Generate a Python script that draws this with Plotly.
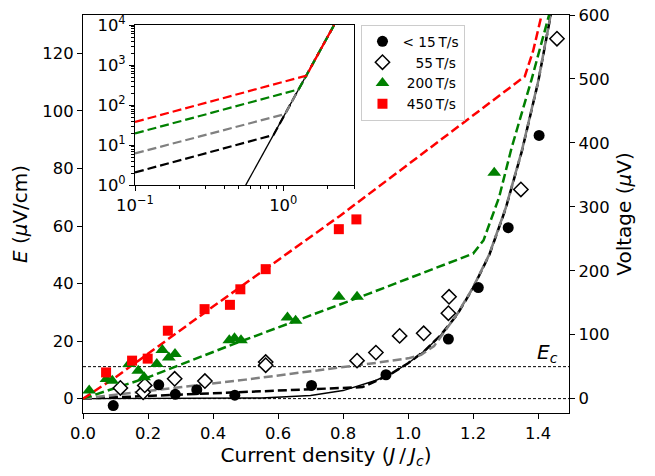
import plotly.graph_objects as go

# ---------------- data ----------------
# measured points: current density J/Jc and field E (uV/cm)
J_lt15 = [0.093, 0.233, 0.284, 0.350, 0.467, 0.703, 0.932, 1.124, 1.216, 1.308, 1.403]
E_lt15 = [-2.4, 4.8, 1.5, 3.1, 1.2, 4.6, 8.3, 20.7, 38.6, 59.4, 91.5]

J_55 = [0.115, 0.185, 0.190, 0.282, 0.375, 0.562, 0.562, 0.843, 0.901, 0.974, 1.048, 1.124, 1.126, 1.347, 1.458]
E_55 = [3.7, 2.2, 4.6, 6.9, 6.1, 12.7, 11.6, 13.2, 16.0, 21.8, 22.7, 29.7, 35.4, 72.7, 125.1]

J_200 = [0.019, 0.072, 0.090, 0.142, 0.170, 0.188, 0.227, 0.244, 0.264, 0.283,
         0.450, 0.466, 0.486, 0.629, 0.654, 0.787, 0.843, 1.265]
E_200 = [2.8, 6.8, 6.2, 12.0, 9.7, 7.4, 12.0, 16.9, 14.3, 15.5,
         20.3, 21.0, 20.3, 28.2, 27.1, 35.4, 35.4, 78.5]

J_450 = [0.071, 0.151, 0.199, 0.261, 0.374, 0.452, 0.484, 0.562, 0.787, 0.841]
E_450 = [9.1, 13.2, 13.9, 23.6, 31.1, 32.6, 38.0, 45.0, 58.9, 62.3]

# model curves in the main panel (E in uV/cm)
J_pow = [0.0, 0.40, 0.55, 0.70, 0.80, 0.90, 0.95, 1.00, 1.05, 1.10, 1.15, 1.20, 1.25, 1.30, 1.35, 1.40, 1.45]
E_pow = [0.0, 0.05, 0.2, 1.1, 2.8, 6.3, 8.8, 12.3, 16.5, 22.0, 29.0, 38.5, 50.0, 66.0, 86.0, 110.0, 140.0]

J_fit15 = [0.0, 0.86, 0.91, 0.95, 1.00, 1.05, 1.10, 1.15, 1.20, 1.25, 1.30, 1.35, 1.40, 1.45]
E_fit15 = [0.0, 4.0, 6.6, 8.8, 12.3, 16.5, 22.0, 29.0, 38.5, 50.0, 66.0, 86.0, 110.0, 140.0]

J_fit55 = [0.0, 0.50, 0.90, 1.00, 1.04, 1.08, 1.12, 1.15, 1.20, 1.25, 1.30, 1.35, 1.40, 1.45]
E_fit55 = [0.0, 6.6, 12.4, 14.0, 15.2, 18.3, 24.5, 29.2, 38.7, 50.2, 66.2, 86.2, 110.2, 140.2]

J_fit200 = [0.0, 0.20, 0.45, 0.88, 1.20, 1.232, 1.28, 1.318, 1.38, 1.44]
E_fit200 = [0.0, 7.4, 18.4, 36.5, 50.4, 55.0, 70.0, 87.0, 111.0, 136.0]

J_fit450 = [0.0, 0.10, 0.40, 0.79, 1.359, 1.385, 1.41, 1.44]
E_fit450 = [0.0, 7.4, 32.0, 63.5, 112.0, 121.0, 133.0, 145.0]

# inset curves (log-log, voltage in uV)
Ji_pow = [0.558, 0.785, 1.109, 1.564, 2.20]
Vi_pow = [1.0, 10.0, 100.0, 1000.0, 10000.0]
Ji_15 = [0.10, 0.86, 1.109, 1.564, 2.20]
Vi_15 = [2.08, 18.0, 100.0, 1000.0, 10000.0]
Ji_55 = [0.10, 1.03, 1.109, 1.564, 2.20]
Vi_55 = [6.2, 60.0, 100.0, 1000.0, 10000.0]
Ji_200 = [0.10, 1.27, 1.564, 2.20]
Vi_200 = [19.6, 248.0, 1000.0, 10000.0]
Ji_450 = [0.10, 1.44, 1.564, 2.20]
Vi_450 = [38.0, 550.0, 1000.0, 10000.0]

EC_uV = 50.0          # criterion voltage
V_PER_E = 4.5         # uV per (uV/cm)
EC = EC_uV / V_PER_E  # criterion field

legend_names = ["<\u00a015\u2009T/s", "\u2007\u00a055\u2009T/s", "\u00a0200\u2009T/s", "\u00a0450\u2009T/s"]

x_ticks = [0.0, 0.2, 0.4, 0.6, 0.8, 1.0, 1.2, 1.4]
v_ticks = [0, 100, 200, 300, 400, 500, 600]
inset_y_ticks = [1, 10, 100, 1000, 10000]
inset_y_text = ["10<sup>0</sup>", "10<sup>1</sup>", "10<sup>2</sup>", "10<sup>3</sup>", "10<sup>4</sup>"]
inset_x_ticks = [0.1, 1.0]
inset_x_text = ["10<sup>\u22121</sup>", "10<sup>0</sup>"]
inset_x_minor = [m * 10 ** k for k in (-1, 0) for m in range(2, 10)]
inset_y_minor = [m * 10 ** k for k in range(0, 4) for m in range(2, 10)]

# ---------------- figure ----------------
FONT = "DejaVu Sans"
DASH = "9px,4px"
fig = go.Figure()

def curve(x, y, color, width=2.5, dash=DASH, xa="x", ya="y"):
    fig.add_trace(go.Scatter(x=x, y=y, mode="lines", xaxis=xa, yaxis=ya,
                             line=dict(color=color, width=width, dash=dash),
                             showlegend=False, hoverinfo="skip"))

# main panel curves
curve(J_pow, E_pow, "black", width=1.4, dash="solid")
curve(J_fit15, E_fit15, "black")
curve(J_fit55, E_fit55, "#808080")
curve(J_fit200, E_fit200, "#008000")
curve(J_fit450, E_fit450, "#ff0000")

# the <15 T/s points on the voltage axis (invisible; keeps the right axis alive)
fig.add_trace(go.Scatter(x=J_lt15, y=[e * V_PER_E for e in E_lt15], mode="markers",
                         yaxis="y2", marker=dict(opacity=0, size=1), showlegend=False,
                         hoverinfo="skip"))

# markers
fig.add_trace(go.Scatter(x=J_lt15, y=E_lt15, mode="markers", name=legend_names[0],
                         marker=dict(symbol="circle", size=11, color="black")))
fig.add_trace(go.Scatter(x=J_55, y=E_55, mode="markers", name=legend_names[1],
                         marker=dict(symbol="diamond", size=11, color="white",
                                     line=dict(color="black", width=1.5))))
fig.add_trace(go.Scatter(x=J_200, y=E_200, mode="markers", name=legend_names[2],
                         marker=dict(symbol="triangle-up", size=12, color="#008000")))
fig.add_trace(go.Scatter(x=J_450, y=E_450, mode="markers", name=legend_names[3],
                         marker=dict(symbol="square", size=10, color="#ff0000")))

# inset curves
curve(Ji_pow, Vi_pow, "black", width=1.3, dash="solid", xa="x3", ya="y3")
curve(Ji_15, Vi_15, "black", width=2.2, xa="x3", ya="y3")
curve(Ji_55, Vi_55, "#808080", width=2.2, xa="x3", ya="y3")
curve(Ji_200, Vi_200, "#008000", width=2.2, xa="x3", ya="y3")
curve(Ji_450, Vi_450, "#ff0000", width=2.2, xa="x3", ya="y3")

# reference lines at 0 and Ec
for yv in (0.0, EC):
    fig.add_shape(type="line", xref="paper", x0=0, x1=1, yref="y", y0=yv, y1=yv,
                  line=dict(color="black", width=1, dash="3px,2px"), layer="below")

fig.add_annotation(x=1.39, y=16.0, xref="x", yref="y", text="<i>E<sub>c</sub></i>",
                   showarrow=False, xanchor="left", yanchor="middle",
                   font=dict(size=20, family=FONT, color="black"))

ax_common = dict(showline=True, linecolor="black", linewidth=1.2, ticks="outside",
                 ticklen=5, tickwidth=1.2, tickcolor="black", showgrid=False,
                 zeroline=False, automargin=False, ticklabeloverflow="allow",
                 tickfont=dict(size=16.4, family=FONT, color="black"))
TITLE_FONT = dict(size=20, family=FONT, color="black")

V_TOP = 600.05
# the page body adds an 8px offset, so the figure is 8px smaller than the window
fig.update_layout(
    width=647, height=468,
    margin=dict(l=75, r=86, t=7, b=63),
    paper_bgcolor="white", plot_bgcolor="white",
    font=dict(family=FONT, color="black"),
    xaxis=dict(**ax_common, range=[0, 1.495], tickvals=x_ticks, tickformat=".1f",
               mirror=True, domain=[0, 1],
               title=dict(text="Current density (<i>J</i>\u2009/\u2009<i>J<sub>c</sub></i>)",
                          font=TITLE_FONT, standoff=6)),
    yaxis=dict(**ax_common, range=[-5, V_TOP / V_PER_E], dtick=20, tick0=0, mirror=True,
               title=dict(text="<i>E</i> (<i>\u03bc</i>V/cm)", font=TITLE_FONT, standoff=10)),
    yaxis2=dict(**ax_common, overlaying="y", side="right", anchor="x",
                range=[-5 * V_PER_E, V_TOP], tickvals=v_ticks,
                title=dict(text="Voltage (<i>\u03bc</i>V)", font=TITLE_FONT, standoff=8)),
    xaxis3=dict(showline=True, linecolor="black", linewidth=1.2, mirror=True,
                type="log", range=[-1, 0.477], domain=[0.107, 0.5576], anchor="y3",
                ticks="outside", ticklen=5, tickwidth=1.2, tickcolor="black",
                tickvals=inset_x_ticks, ticktext=inset_x_text, showgrid=False, zeroline=False,
                automargin=False, tickfont=dict(size=16.4, family=FONT, color="black"),
                minor=dict(ticks="outside", ticklen=2.5, tickwidth=1, tickcolor="black",
                           tickvals=inset_x_minor, showgrid=False)),
    yaxis3=dict(showline=True, linecolor="black", linewidth=1.2, mirror=True,
                type="log", range=[0, 4], domain=[0.5725, 0.9746], anchor="x3",
                ticks="outside", ticklen=5, tickwidth=1.2, tickcolor="black",
                tickvals=inset_y_ticks, ticktext=inset_y_text, showgrid=False, zeroline=False,
                automargin=False, tickfont=dict(size=16.4, family=FONT, color="black"),
                minor=dict(ticks="outside", ticklen=2.5, tickwidth=1, tickcolor="black",
                           tickvals=inset_y_minor, showgrid=False)),
    legend=dict(x=0.573, y=0.975, xanchor="left", yanchor="top",
                bgcolor="white", bordercolor="#cccccc", borderwidth=1,
                font=dict(size=13.7, family=FONT, color="black"),
                itemsizing="trace", tracegroupgap=2),
    showlegend=True,
)

fig.write_html("out.html")
